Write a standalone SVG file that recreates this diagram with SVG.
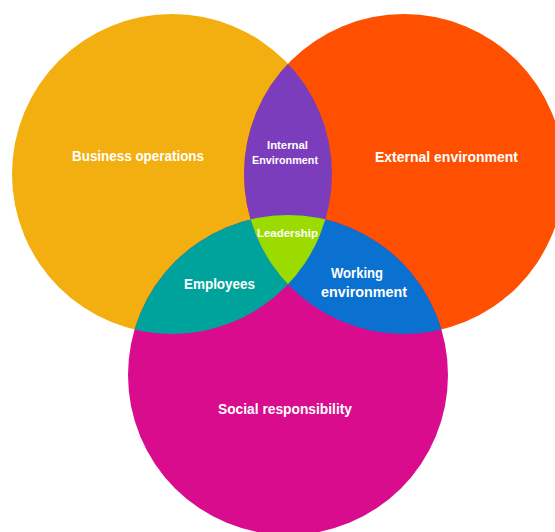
<svg xmlns="http://www.w3.org/2000/svg" width="555" height="532" viewBox="0 0 555 532">
  <style>
    text { font-family: "Liberation Sans", Arial, sans-serif; font-weight: bold; fill: #ffffff; text-anchor: middle; }
    .big { font-size: 14px; }
    .small { font-size: 11px; }
  </style>
  <defs>
    <clipPath id="clipLeft"><circle cx="172" cy="174" r="160"/></clipPath>
    <clipPath id="clipRight"><circle cx="404" cy="174" r="160"/></clipPath>
  </defs>
  <rect width="555" height="532" fill="#ffffff"/>
  <g id="business-operations">
    <circle cx="172" cy="174" r="160" fill="#F2AF0F"/>
  </g>
  <g id="external-environment">
    <circle cx="404" cy="174" r="160" fill="#FE5000"/>
  </g>
  <g id="social-responsibility">
    <circle cx="288" cy="375" r="160" fill="#D80C8C"/>
  </g>
  <g id="internal-environment">
    <circle cx="404" cy="174" r="160" fill="#7B3DBB" clip-path="url(#clipLeft)"/>
  </g>
  <g id="employees">
    <circle cx="288" cy="375" r="160" fill="#00A39B" clip-path="url(#clipLeft)"/>
  </g>
  <g id="working-environment">
    <circle cx="288" cy="375" r="160" fill="#0A71D0" clip-path="url(#clipRight)"/>
  </g>
  <g id="leadership">
    <g clip-path="url(#clipRight)">
      <circle cx="288" cy="375" r="160" fill="#9BDB00" clip-path="url(#clipLeft)"/>
    </g>
  </g>
  <g id="labels">
    <text class="big" x="138" y="161" textLength="132" lengthAdjust="spacingAndGlyphs">Business operations</text>
    <text class="big" x="446.5" y="162" textLength="143" lengthAdjust="spacingAndGlyphs">External environment</text>
    <text class="small" x="287.5" y="149" textLength="41" lengthAdjust="spacingAndGlyphs">Internal</text>
    <text class="small" x="285" y="164" textLength="66" lengthAdjust="spacingAndGlyphs">Environment</text>
    <text class="small" x="287.5" y="237" textLength="61" lengthAdjust="spacingAndGlyphs">Leadership</text>
    <text class="big" x="219.5" y="289" textLength="71" lengthAdjust="spacingAndGlyphs">Employees</text>
    <text class="big" x="357" y="278" textLength="52" lengthAdjust="spacingAndGlyphs">Working</text>
    <text class="big" x="364" y="297" textLength="86" lengthAdjust="spacingAndGlyphs">environment</text>
    <text class="big" x="285" y="414" textLength="134" lengthAdjust="spacingAndGlyphs">Social responsibility</text>
  </g>
  <g id="connectors"/>
</svg>
